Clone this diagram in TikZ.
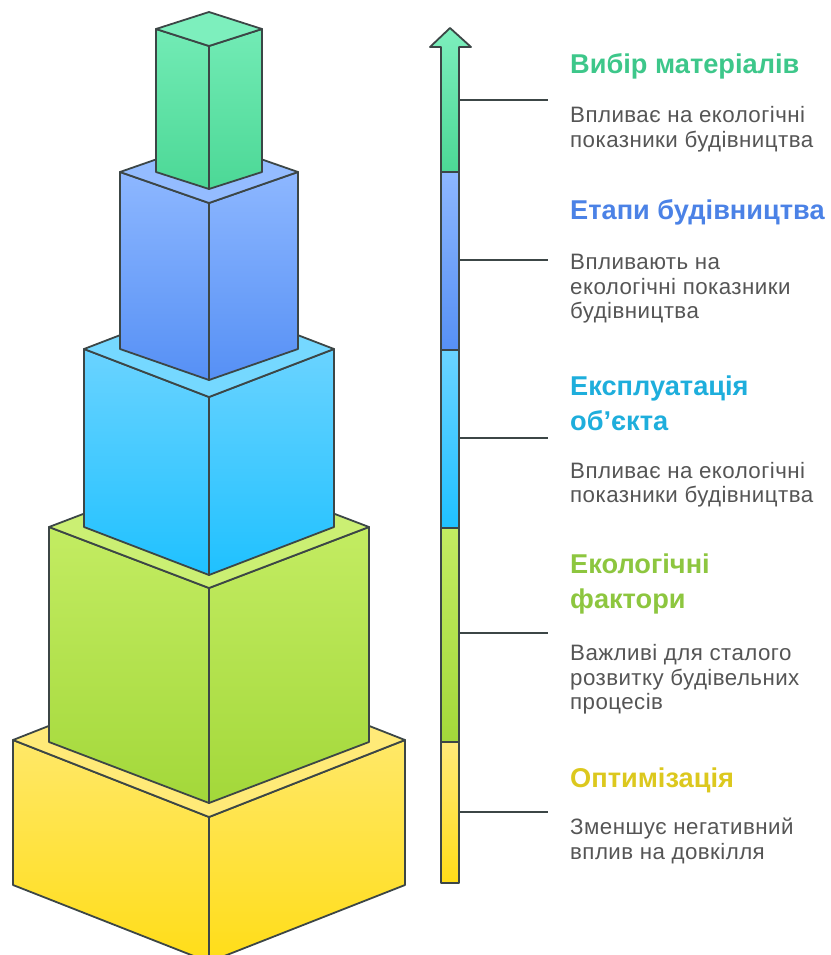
\documentclass[tikz,border=0pt]{standalone}
\usepackage{fontspec}
\setmainfont{Liberation Sans}
\definecolor{edgec}{HTML}{3C4646}
\definecolor{bodyc}{HTML}{555555}
\definecolor{tgreen}{HTML}{3DC78A}
\definecolor{tblue}{HTML}{4B82E6}
\definecolor{tcyan}{HTML}{1EAEDC}
\definecolor{tlime}{HTML}{8DC63F}
\definecolor{tyellow}{HTML}{DCC81E}
% face colours: top-face, side top, side bottom
\definecolor{gA}{HTML}{7DEFBD}\definecolor{gB}{HTML}{72EBB5}\definecolor{gC}{HTML}{4CD896}
\definecolor{bA}{HTML}{94BCFF}\definecolor{bB}{HTML}{8DB7FF}\definecolor{bC}{HTML}{5690F5}
\definecolor{cA}{HTML}{75D8FF}\definecolor{cB}{HTML}{6AD3FF}\definecolor{cC}{HTML}{1FC1FF}
\definecolor{lA}{HTML}{CBEF73}\definecolor{lB}{HTML}{C3EC62}\definecolor{lC}{HTML}{A3D83A}
\definecolor{yA}{HTML}{FFEA78}\definecolor{yB}{HTML}{FFE868}\definecolor{yC}{HTML}{FFDD18}
\newcommand{\isobox}[8]{% cx, hw, Ltop, dy, Lbot, topface, sidetop, sidebottom
  \filldraw[outl,top color=#7,bottom color=#8]
    (#1-#2,#3) -- (#1,#3+#4) -- (#1,#5+#4) -- (#1-#2,#5) -- cycle;
  \filldraw[outl,top color=#7,bottom color=#8]
    (#1+#2,#3) -- (#1,#3+#4) -- (#1,#5+#4) -- (#1+#2,#5) -- cycle;
  \filldraw[outl,fill=#6]
    (#1-#2,#3) -- (#1,#3-#4) -- (#1+#2,#3) -- (#1,#3+#4) -- cycle;
}
\tikzset{
  outl/.style={draw=edgec,line width=1.8pt,line join=round},
  ttl/.style={anchor=base west,inner sep=0pt,font=\fontsize{27.2}{32}\selectfont\bfseries},
  dsc/.style={anchor=base west,inner sep=0pt,text=bodyc,font=\fontsize{22.3}{26}\selectfont\addfontfeature{LetterSpace=2}},
  tick/.style={draw=edgec,line width=1.6pt}
}
\begin{document}
\begin{tikzpicture}[x=1pt,y=-1pt]
\useasboundingbox (0,0) rectangle (830,955);
% stacked boxes, bottom first
\isobox{209}{196}{740}{77}{885}{yA}{yB}{yC}
\isobox{209}{160}{527}{61}{742}{lA}{lB}{lC}
\isobox{209}{125}{349}{48}{527}{cA}{cB}{cC}
\isobox{209}{89}{172}{31}{349}{bA}{bB}{bC}
\isobox{209}{53}{29}{17}{172}{gA}{gB}{gC}
% arrow bar
\filldraw[outl,top color=yA,bottom color=yC] (441,742) rectangle (459,883);
\filldraw[outl,top color=lB,bottom color=lC] (441,528) rectangle (459,742);
\filldraw[outl,top color=cB,bottom color=cC] (441,350) rectangle (459,528);
\filldraw[outl,top color=bB,bottom color=bC] (441,172) rectangle (459,350);
\filldraw[outl,top color=gA,bottom color=gC] (441,172) -- (441,47) -- (430,47) -- (450,28) -- (471,47) -- (459,47) -- (459,172) -- cycle;
% connectors
\coordinate (b1) at (459,100); \coordinate (e1) at (548,100);
\coordinate (b2) at (459,260); \coordinate (e2) at (548,260);
\coordinate (b3) at (459,438); \coordinate (e3) at (548,438);
\coordinate (b4) at (459,633); \coordinate (e4) at (548,633);
\coordinate (b5) at (459,812); \coordinate (e5) at (548,812);
\draw[tick] (b1) -- (e1);
\draw[tick] (b2) -- (e2);
\draw[tick] (b3) -- (e3);
\draw[tick] (b4) -- (e4);
\draw[tick] (b5) -- (e5);
% texts
\node[ttl,text=tgreen] (t1) at (570,74) {Вибір матеріалів};
\node[dsc] (d1a) at (570,123) {Впливає на екологічні};
\node[dsc] (d1b) at (570,147) {показники будівництва};
\node[ttl,text=tblue] (t2) at (570,219) {Етапи будівництва};
\node[dsc] (d2a) at (570,269) {Впливають на};
\node[dsc] (d2b) at (570,294) {екологічні показники};
\node[dsc] (d2c) at (570,318) {будівництва};
\node[ttl,text=tcyan] (t3a) at (570,395) {Експлуатація};
\node[ttl,text=tcyan] (t3b) at (570,430) {об'єкта};
\node[dsc] (d3a) at (570,478) {Впливає на екологічні};
\node[dsc] (d3b) at (570,502) {показники будівництва};
\node[ttl,text=tlime] (t4a) at (570,573) {Екологічні};
\node[ttl,text=tlime] (t4b) at (570,608) {фактори};
\node[dsc] (d4a) at (570,660) {Важливі для сталого};
\node[dsc] (d4b) at (570,685) {розвитку будівельних};
\node[dsc] (d4c) at (570,709) {процесів};
\node[ttl,text=tyellow] (t5) at (570,787) {Оптимізація};
\node[dsc] (d5a) at (570,834) {Зменшує негативний};
\node[dsc] (d5b) at (570,859) {вплив на довкілля};
\end{tikzpicture}
\end{document}
